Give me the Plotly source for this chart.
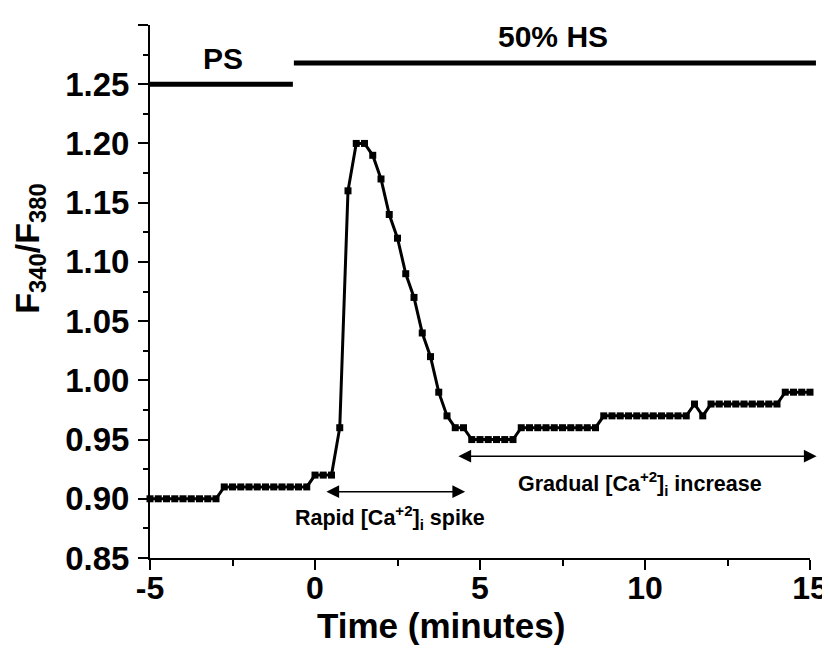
import plotly.graph_objects as go

# ---- data ----
time_min = [-5.0, -4.75, -4.5, -4.25, -4.0, -3.75, -3.5, -3.25, -3.0,
            -2.75, -2.5, -2.25, -2.0, -1.75, -1.5, -1.25, -1.0, -0.75, -0.5, -0.25,
            0.0, 0.25, 0.5,
            0.75, 1.0, 1.25, 1.5, 1.75, 2.0, 2.25, 2.5, 2.75, 3.0, 3.25, 3.5, 3.75, 4.0, 4.25, 4.5,
            4.75, 5.0, 5.25, 5.5, 5.75, 6.0,
            6.25, 6.5, 6.75, 7.0, 7.25, 7.5, 7.75, 8.0, 8.25, 8.5,
            8.75, 9.0, 9.25, 9.5, 9.75, 10.0, 10.25, 10.5, 10.75, 11.0, 11.25,
            11.5, 11.75,
            12.0, 12.25, 12.5, 12.75, 13.0, 13.25, 13.5, 13.75, 14.0,
            14.25, 14.5, 14.75, 15.0]
ratio = [0.90, 0.90, 0.90, 0.90, 0.90, 0.90, 0.90, 0.90, 0.90,
         0.91, 0.91, 0.91, 0.91, 0.91, 0.91, 0.91, 0.91, 0.91, 0.91, 0.91,
         0.92, 0.92, 0.92,
         0.96, 1.16, 1.20, 1.20, 1.19, 1.17, 1.14, 1.12, 1.09, 1.07, 1.04, 1.02, 0.99, 0.97, 0.96, 0.96,
         0.95, 0.95, 0.95, 0.95, 0.95, 0.95,
         0.96, 0.96, 0.96, 0.96, 0.96, 0.96, 0.96, 0.96, 0.96, 0.96,
         0.97, 0.97, 0.97, 0.97, 0.97, 0.97, 0.97, 0.97, 0.97, 0.97, 0.97,
         0.98, 0.97,
         0.98, 0.98, 0.98, 0.98, 0.98, 0.98, 0.98, 0.98, 0.98,
         0.99, 0.99, 0.99, 0.99]

x_tickvals = [-5, 0, 5, 10, 15]
x_ticktext = ["-5", "0", "5", "10", "15"]
y_tickvals = [0.85, 0.90, 0.95, 1.00, 1.05, 1.10, 1.15, 1.20, 1.25, 1.30]

# treatment bars (start, end, level) and labels
ps_bar = (-5.0, -0.67, 1.25)
hs_bar = (-0.64, 15.18, 1.268)
ps_label = ("PS", -2.8, 1.272)
hs_label = ("50% HS", 7.2, 1.29)

# annotation arrows (x0, x1, y) and labels
rapid_arrow = (0.3, 4.55, 0.906)
gradual_arrow = (4.3, 15.2, 0.936)
rapid_label = ("Rapid [Ca<sup>+2</sup>]<sub>i</sub> spike", 2.27, 0.884)
gradual_label = ("Gradual [Ca<sup>+2</sup>]<sub>i</sub> increase", 9.85, 0.913)

x_title = "Time (minutes)"
y_title = "F<sub>340</sub>/F<sub>380</sub>"

XMIN, XMAX = -5, 15
YMIN, YMAX = 0.85, 1.30

FONT = "Liberation Sans, Arial, sans-serif"

fig = go.Figure()
fig.add_trace(go.Scatter(
    x=time_min, y=ratio, mode="lines+markers",
    line=dict(color="black", width=3),
    marker=dict(symbol="square", size=7, color="black"),
    cliponaxis=False, showlegend=False,
))


def xpaper(v):
    return (v - XMIN) / (XMAX - XMIN)


for (x0, x1, lev) in (ps_bar, hs_bar):
    fig.add_shape(type="line", xref="paper", yref="y",
                  x0=xpaper(x0), x1=xpaper(x1), y0=lev, y1=lev,
                  line=dict(color="black", width=5))

for (txt, xx, yy) in (ps_label, hs_label):
    fig.add_annotation(x=xx, y=yy, text="<b>%s</b>" % txt, showarrow=False,
                       font=dict(family=FONT, size=30, color="black"),
                       xanchor="center", yanchor="middle")

for (x0, x1, yy) in (rapid_arrow, gradual_arrow):
    fig.add_annotation(x=x1, y=yy, ax=x0, ay=yy, xref="x", yref="y",
                       axref="x", ayref="y", text="", showarrow=True,
                       arrowhead=2, arrowside="end+start", arrowsize=1.7,
                       arrowwidth=1.5, arrowcolor="black")

for (txt, xx, yy) in (rapid_label, gradual_label):
    fig.add_annotation(x=xx, y=yy, text="<b>%s</b>" % txt, showarrow=False,
                       font=dict(family=FONT, size=21.5, color="black"),
                       xanchor="center", yanchor="middle")

# axis titles (placed as annotations, as in the reference they are off-centre)
fig.add_annotation(xref="paper", yref="paper", x=0.441, y=-0.126,
                   text="<b>%s</b>" % x_title, showarrow=False,
                   font=dict(family=FONT, size=35, color="black"),
                   xanchor="center", yanchor="middle")
fig.add_annotation(xref="paper", yref="paper", x=-0.182, y=0.58,
                   text="<b>%s</b>" % y_title, showarrow=False, textangle=-90,
                   font=dict(family=FONT, size=34, color="black"),
                   xanchor="center", yanchor="middle")

axis_common = dict(
    showline=True, linecolor="black", linewidth=2, mirror=False,
    ticks="outside", ticklen=10, tickwidth=2, tickcolor="black",
    showgrid=False, zeroline=False,
)

fig.update_xaxes(
    range=[XMIN, XMAX], tickmode="array", tickvals=x_tickvals,
    ticktext=["<b>%s</b>" % t for t in x_ticktext],
    tickfont=dict(family=FONT, size=32, color="black"),
    ticklabelstandoff=-9,
    minor=dict(dtick=2.5, tick0=-5, ticks="outside", ticklen=6, tickwidth=2, tickcolor="black"),
    **axis_common,
)
fig.update_yaxes(
    range=[YMIN, YMAX], tickmode="array", tickvals=y_tickvals,
    ticktext=["<b>%.2f</b>" % v for v in y_tickvals],
    tickfont=dict(family=FONT, size=33, color="black"),
    ticklabelstandoff=2,
    minor=dict(dtick=0.025, tick0=0.85, ticks="outside", ticklen=5, tickwidth=2, tickcolor="black"),
    **axis_common,
)

fig.update_layout(
    width=822, height=648,
    margin=dict(l=142, r=20, t=17, b=98, autoexpand=False),
    plot_bgcolor="white", paper_bgcolor="white",
)

fig.write_html("out.html")
